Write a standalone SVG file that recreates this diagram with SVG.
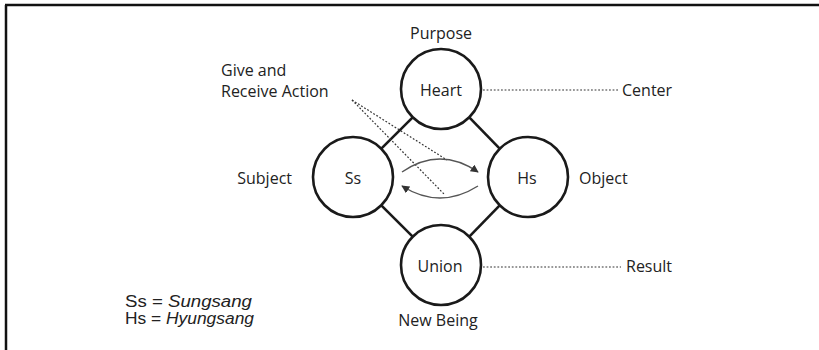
<svg xmlns="http://www.w3.org/2000/svg" width="819" height="350" viewBox="0 0 819 350">
<defs>
<style>
.lbl{font-family:"Open Sans","Liberation Sans",sans-serif;font-size:16px;fill:#222}
.mid{text-anchor:middle}
.end{text-anchor:end}
.leg{font-family:"Liberation Sans",Arial,sans-serif;font-size:16px;fill:#222}
.node{fill:none;stroke:#1a1a1a;stroke-width:2.6}
.edge{stroke:#1a1a1a;stroke-width:2.6;fill:none}
.dot{stroke:#333;stroke-width:1.2;stroke-dasharray:1.8 1.8;fill:none}
.arc{stroke:#555;stroke-width:1.4;fill:none}
</style>
<marker id="ah" viewBox="0 0 10 10" refX="9" refY="5" markerWidth="8" markerHeight="8" markerUnits="userSpaceOnUse" orient="auto">
<path d="M0,0 L10,5 L0,10 z" fill="#333"/>
</marker>
</defs>
<rect width="819" height="350" fill="#fff"/>
<g id="frame" stroke="#111" stroke-width="2.5">
<line x1="5" y1="5" x2="819" y2="5"/>
<line x1="6" y1="5" x2="6" y2="350"/>
</g>
<g id="connectors">
<line class="edge" x1="412.7" y1="117.3" x2="381.3" y2="148.7"/>
<line class="edge" x1="469.3" y1="117.3" x2="499.7" y2="148.7"/>
<line class="edge" x1="381.3" y1="205.3" x2="412.7" y2="236.7"/>
<line class="edge" x1="499.7" y1="205.3" x2="469.3" y2="236.7"/>
<line class="dot" x1="483" y1="90" x2="619" y2="90"/>
<line class="dot" x1="483" y1="267" x2="621" y2="267"/>
<line class="dot" x1="352" y1="100" x2="444" y2="194"/>
<line class="dot" x1="352" y1="100" x2="447" y2="160"/>
<path class="arc" d="M402,172 Q440,146 478,172" marker-end="url(#ah)"/>
<path class="arc" d="M478,186 Q440,210 402,186" marker-end="url(#ah)"/>
</g>
<g id="heart"><circle class="node" cx="441" cy="89" r="40"/><text class="lbl mid" x="441" y="96">Heart</text></g>
<g id="ss"><circle class="node" cx="353" cy="177" r="40"/><text class="lbl mid" x="353" y="184">Ss</text></g>
<g id="hs"><circle class="node" cx="528" cy="177" r="40"/><text class="lbl mid" x="527" y="184">Hs</text></g>
<g id="union"><circle class="node" cx="441" cy="265" r="40"/><text class="lbl mid" x="440" y="272">Union</text></g>
<g id="labels">
<text class="lbl mid" x="441" y="39">Purpose</text>
<text class="lbl" x="221" y="76">Give and</text>
<text class="lbl" x="221" y="97">Receive Action</text>
<text class="lbl" x="622" y="96">Center</text>
<text class="lbl end" x="292" y="184">Subject</text>
<text class="lbl" x="579" y="184">Object</text>
<text class="lbl" x="626" y="272">Result</text>
<text class="lbl mid" x="438" y="326">New Being</text>
</g>
<g id="legend">
<text class="leg" x="125" y="307" textLength="127" lengthAdjust="spacingAndGlyphs">Ss = <tspan font-style="italic">Sungsang</tspan></text>
<text class="leg" x="125" y="324" textLength="129" lengthAdjust="spacingAndGlyphs">Hs = <tspan font-style="italic">Hyungsang</tspan></text>
</g>
</svg>
